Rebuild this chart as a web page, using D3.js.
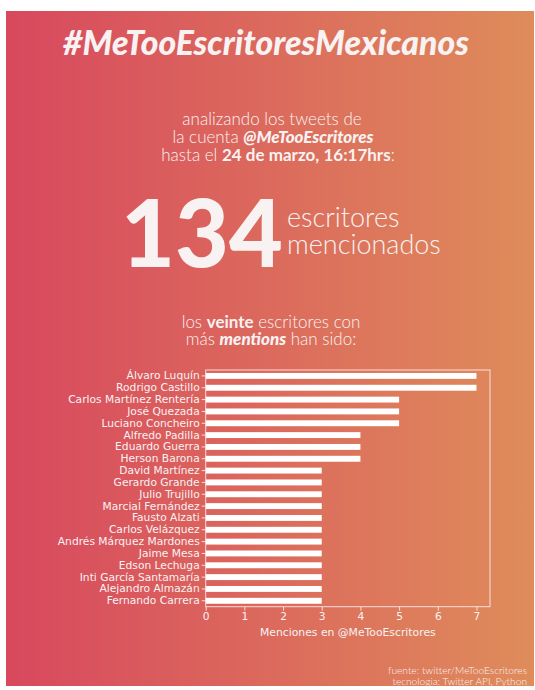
<!DOCTYPE html>
<html>
<head>
<meta charset="utf-8">
<script src="https://d3js.org/d3.v7.min.js"></script>
<style>
  html, body { margin: 0; padding: 0; background: #fff; }
  svg { display: block; }
</style>
</head>
<body>
<div id="chart"></div>
<script>
// data
var writers = ["Álvaro Luquín", "Rodrigo Castillo", "Carlos Martínez Rentería", "José Quezada",
  "Luciano Concheiro", "Alfredo Padilla", "Eduardo Guerra", "Herson Barona", "David Martínez",
  "Gerardo Grande", "Julio Trujillo", "Marcial Fernández", "Fausto Alzati", "Carlos Velázquez",
  "Andrés Márquez Mardones", "Jaime Mesa", "Edson Lechuga", "Inti García Santamaría",
  "Alejandro Almazán", "Fernando Carrera"];
var mentions = [7, 7, 5, 5, 5, 4, 4, 4, 3, 3, 3, 3, 3, 3, 3, 3, 3, 3, 3, 3];
var xTicks = [0, 1, 2, 3, 4, 5, 6, 7];
var totalWriters = 134;

var W = 535, H = 690;
var txt = "#f8f2f2";

var svg = d3.select("#chart").append("svg").attr("width", W).attr("height", H);

var grad = svg.append("defs").append("linearGradient").attr("id", "bg")
  .attr("x1", "0%").attr("x2", "100%").attr("y1", "0%").attr("y2", "0%");
grad.append("stop").attr("offset", "0%").attr("stop-color", "#d8485e");
grad.append("stop").attr("offset", "100%").attr("stop-color", "#df8c5b");

svg.append("rect").attr("x", 6).attr("y", 11).attr("width", 528).attr("height", 675)
  .attr("fill", "url(#bg)");

// header
svg.append("text").attr("x", 266).attr("y", 55).attr("text-anchor", "middle")
  .style("font-family", "Lato").style("font-weight", 900).style("font-style", "italic")
  .style("font-size", "33.8px").attr("fill", txt)
  .text("#MeTooEscritoresMexicanos");

var sub = svg.append("g").style("font-family", "Lato").style("font-weight", 300)
  .style("font-size", "17px").attr("fill", txt).attr("text-anchor", "middle");

sub.append("text").attr("x", 272).attr("y", 125).text("analizando los tweets de");
var l2 = sub.append("text").attr("x", 273).attr("y", 143);
l2.append("tspan").text("la cuenta ");
l2.append("tspan").style("font-weight", 900).style("font-style", "italic").text("@MeTooEscritores");
var l3 = sub.append("text").attr("x", 278).attr("y", 161);
l3.append("tspan").text("hasta el ");
l3.append("tspan").style("font-weight", 700).text("24 de marzo, 16:17hrs");
l3.append("tspan").text(":");

svg.append("text").attr("x", 121).attr("y", 267)
  .style("font-family", "Lato").style("font-weight", 900).style("font-size", "93px")
  .attr("fill", txt).text(totalWriters);

var big = svg.append("g").style("font-family", "Lato").style("font-weight", 300)
  .style("font-size", "27px").attr("fill", txt);
big.append("text").attr("x", 287).attr("y", 227).text("escritores");
big.append("text").attr("x", 287).attr("y", 254).text("mencionados");

var s2 = sub.append("text").attr("x", 271).attr("y", 328);
s2.append("tspan").text("los ");
s2.append("tspan").style("font-weight", 700).text("veinte");
s2.append("tspan").text(" escritores con");
var s3 = sub.append("text").attr("x", 271).attr("y", 345);
s3.append("tspan").text("más ");
s3.append("tspan").style("font-weight", 900).style("font-style", "italic").text("mentions");
s3.append("tspan").text(" han sido:");

// bar chart
var plot = { left: 205.7, right: 490, top: 370, bottom: 606.7 };

var x = d3.scaleLinear().domain([0, 7.35]).range([plot.left, plot.right]);
var y = d3.scaleBand().domain(writers).range([plot.top, plot.bottom])
  .paddingInner(0.5).paddingOuter(0.25);

var g = svg.append("g");

g.selectAll("rect.bar").data(writers).enter().append("rect")
  .attr("class", "bar")
  .attr("x", x(0))
  .attr("y", function (d) { return y(d); })
  .attr("width", function (d, i) { return x(mentions[i]) - x(0); })
  .attr("height", y.bandwidth())
  .attr("fill", "#ffffff");

var axisColor = "rgba(255,240,240,0.85)";

g.append("rect").attr("x", plot.left).attr("y", plot.top)
  .attr("width", plot.right - plot.left).attr("height", plot.bottom - plot.top)
  .attr("fill", "none").attr("stroke", axisColor).attr("stroke-width", 1);

var yAxis = g.append("g").attr("transform", "translate(" + plot.left + ",0)")
  .call(d3.axisLeft(y).tickSize(4).tickPadding(2));
var xAxis = g.append("g").attr("transform", "translate(0," + plot.bottom + ")")
  .call(d3.axisBottom(x).tickValues(xTicks).tickSize(4).tickPadding(2));

[yAxis, xAxis].forEach(function (a) {
  a.select(".domain").remove();
  a.selectAll("line").attr("stroke", axisColor);
  a.selectAll("text").attr("fill", txt)
    .style("font-family", "DejaVu Sans").style("font-size", "10.7px");
});

g.append("text").attr("x", (plot.left + plot.right) / 2).attr("y", 636)
  .attr("text-anchor", "middle").attr("fill", txt)
  .style("font-family", "DejaVu Sans").style("font-size", "10.8px")
  .text("Menciones en @MeTooEscritores");

// footer
var foot = svg.append("g").style("font-family", "Lato").style("font-weight", 300)
  .style("font-size", "10.2px").attr("fill", txt).attr("text-anchor", "end");
foot.append("text").attr("x", 527).attr("y", 674).text("fuente: twitter/MeTooEscritores");
foot.append("text").attr("x", 527).attr("y", 685).text("tecnologia: Twitter API, Python");
</script>
</body>
</html>
